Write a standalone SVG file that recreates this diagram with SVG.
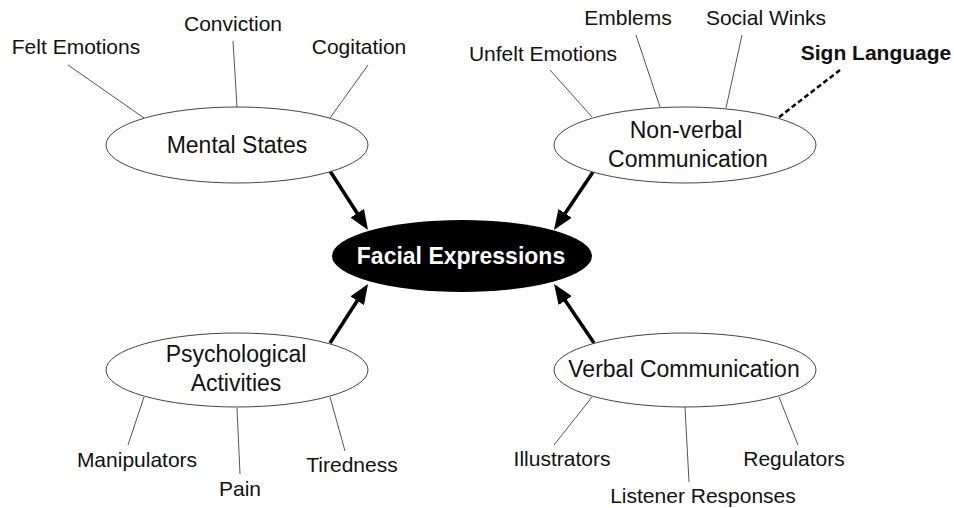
<svg xmlns="http://www.w3.org/2000/svg" width="954" height="508" viewBox="0 0 954 508">
<defs>
<style>
.lbl{font-family:"Liberation Sans",Arial,sans-serif;font-size:21px;fill:#111;text-anchor:middle}
.main{font-family:"Liberation Sans",Arial,sans-serif;font-size:23px;fill:#111;text-anchor:middle}
.node{fill:#fff;stroke:#444;stroke-width:1}
.thin{stroke:#555;stroke-width:1;fill:none}
.arrow{stroke:#000;stroke-width:3.5;fill:none;marker-end:url(#ah)}
</style>
<marker id="ah" viewBox="0 0 20 16" refX="14" refY="8" markerWidth="20" markerHeight="16" markerUnits="userSpaceOnUse" orient="auto">
<path d="M0,0 L20,8 L0,16 z" fill="#000"/>
</marker>
</defs>
<rect width="954" height="508" fill="#fff"/>
<g id="connectors">
<line class="thin" x1="68" y1="65" x2="144" y2="118"/>
<line class="thin" x1="233" y1="41" x2="237" y2="107"/>
<line class="thin" x1="368" y1="65" x2="330" y2="118"/>
<line class="thin" x1="550" y1="70" x2="592" y2="117"/>
<line class="thin" x1="636" y1="35" x2="660" y2="107"/>
<line class="thin" x1="742" y1="35" x2="726" y2="108"/>
<line x1="840" y1="70" x2="778" y2="118" stroke="#000" stroke-width="2.5" stroke-dasharray="5,3"/>
<line class="thin" x1="144" y1="397" x2="128" y2="445"/>
<line class="thin" x1="237" y1="408" x2="240" y2="474"/>
<line class="thin" x1="330" y1="397" x2="345" y2="451"/>
<line class="thin" x1="592" y1="397" x2="554" y2="445"/>
<line class="thin" x1="685" y1="407" x2="689" y2="482"/>
<line class="thin" x1="779" y1="397" x2="798" y2="445"/>
<path class="arrow" d="M330,171 L364.8,225"/>
<path class="arrow" d="M593,172 L557.3,225"/>
<path class="arrow" d="M330,343 L364.8,289"/>
<path class="arrow" d="M594,343 L557.4,289"/>
</g>
<g id="facial-expressions">
<ellipse cx="462" cy="256" rx="130" ry="36" fill="#000"/>
<text x="461" y="264" font-family="'Liberation Sans',Arial,sans-serif" font-size="23" font-weight="bold" fill="#fff" text-anchor="middle">Facial Expressions</text>
</g>
<g id="mental-states">
<ellipse class="node" cx="237" cy="145" rx="131" ry="38"/>
<text class="main" x="237" y="153">Mental States</text>
</g>
<g id="non-verbal">
<ellipse class="node" cx="685" cy="145" rx="131" ry="38"/>
<text class="main" x="686" y="138">Non-verbal</text>
<text class="main" x="688" y="167">Communication</text>
</g>
<g id="psychological">
<ellipse class="node" cx="237" cy="370" rx="131" ry="37"/>
<text class="main" x="236" y="362">Psychological</text>
<text class="main" x="236" y="391">Activities</text>
</g>
<g id="verbal">
<ellipse class="node" cx="685" cy="370" rx="131" ry="37"/>
<text class="main" x="684" y="377">Verbal Communication</text>
</g>
<g id="felt-emotions"><text class="lbl" x="76" y="54">Felt Emotions</text></g>
<g id="conviction"><text class="lbl" x="233" y="31">Conviction</text></g>
<g id="cogitation"><text class="lbl" x="359" y="54">Cogitation</text></g>
<g id="unfelt-emotions"><text class="lbl" x="543" y="61">Unfelt Emotions</text></g>
<g id="emblems"><text class="lbl" x="628" y="25">Emblems</text></g>
<g id="social-winks"><text class="lbl" x="766" y="25">Social Winks</text></g>
<g id="sign-language"><text class="lbl" x="876" y="60" font-weight="bold">Sign Language</text></g>
<g id="manipulators"><text class="lbl" x="137" y="467">Manipulators</text></g>
<g id="pain"><text class="lbl" x="240" y="496">Pain</text></g>
<g id="tiredness"><text class="lbl" x="352" y="472">Tiredness</text></g>
<g id="illustrators"><text class="lbl" x="562" y="466">Illustrators</text></g>
<g id="listener-responses"><text class="lbl" x="703" y="503">Listener Responses</text></g>
<g id="regulators"><text class="lbl" x="794" y="466">Regulators</text></g>
</svg>
